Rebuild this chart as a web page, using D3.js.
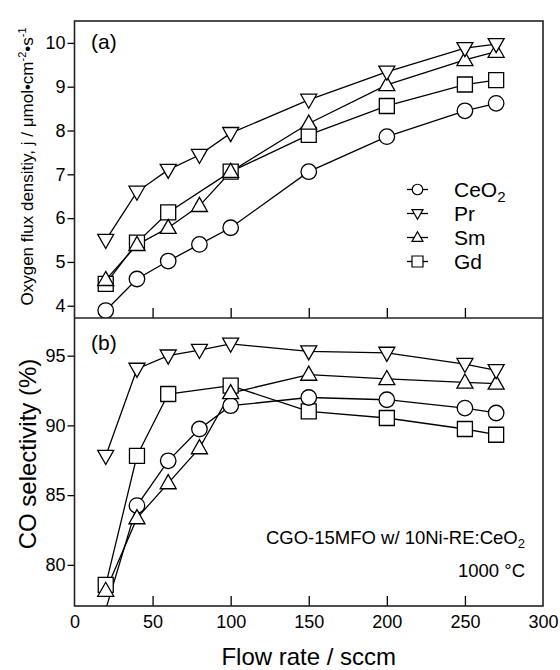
<!DOCTYPE html>
<html>
<head>
<meta charset="utf-8">
<script src="https://cdn.jsdelivr.net/npm/d3@7"></script>
<style>
  body { margin: 0; background: #fff; }
  svg { font-family: "Liberation Sans", Arial, Helvetica, sans-serif; }
</style>
</head>
<body>
<div id="chart"></div>
<script>
// flow rates (sccm); Gd has no point at 80
const flows = [20, 40, 60, 80, 100, 150, 200, 250, 270];
const gdFlows = [20, 40, 60, 100, 150, 200, 250, 270];

// (a) oxygen flux density
const fluxCeO2 = [3.89, 4.61, 5.02, 5.40, 5.78, 7.06, 7.86, 8.45, 8.62];
const fluxPr   = [5.50, 6.60, 7.10, 7.44, 7.94, 8.70, 9.34, 9.88, 9.97];
const fluxSm   = [4.59, 5.39, 5.78, 6.28, 7.06, 8.16, 9.04, 9.61, 9.80];
const fluxGd   = [4.50, 5.44, 6.13, 7.06, 7.90, 8.56, 9.05, 9.15];

// (b) CO selectivity (%)
const selCeO2 = [76.8, 84.25, 87.46, 89.74, 91.41, 92.0, 91.84, 91.24, 90.89];
const selPr   = [87.8, 94.05, 95.0, 95.4, 95.85, 95.3, 95.2, 94.4, 93.95];
const selSm   = [78.15, 83.35, 85.86, 88.37, 92.32, 93.64, 93.33, 93.08, 93.0];
const selGd   = [78.56, 87.82, 92.25, 92.85, 91.0, 90.53, 89.74, 89.33];

const xTicks = [0, 50, 100, 150, 200, 250, 300];
const innerXTicks = [50, 100, 150, 200, 250];
const fluxTicks = [4, 5, 6, 7, 8, 9, 10];
const selTicks = [80, 85, 90, 95];

const W = 560, H = 670;
const pLeft = 74.5, pRight = 543, pTop = 21, pMid = 318, pBottom = 606;

const svg = d3.select('#chart').append('svg').attr('width', W).attr('height', H);

const x = d3.scaleLinear().domain([0, 300]).range([pLeft, pRight]);
const yTop = d3.scaleLinear().domain([3.72, 10.5]).range([pMid, pTop]);
const yBot = d3.scaleLinear().domain([77.05, 97.7]).range([pBottom, pMid]);

// marker shapes
function markerPath(kind, s) {
  const h = s / 2;
  if (kind === 'circle') return d3.symbol(d3.symbolCircle, Math.PI * h * h)();
  if (kind === 'square') return `M${-h},${-h}H${h}V${h}H${-h}Z`;
  const th = s * 0.88;
  if (kind === 'up') return `M0,${-th * 0.6}L${h},${th * 0.4}L${-h},${th * 0.4}Z`;
  return `M0,${th * 0.6}L${h},${-th * 0.4}L${-h},${-th * 0.4}Z`;
}

const seriesTop = [
  { name: 'Gd', kind: 'square', xs: gdFlows, ys: fluxGd, size: 15 },
  { name: 'CeO2', kind: 'circle', xs: flows, ys: fluxCeO2, size: 15.5 },
  { name: 'Sm', kind: 'up', xs: flows, ys: fluxSm, size: 16 },
  { name: 'Pr', kind: 'down', xs: flows, ys: fluxPr, size: 16 },
];
const seriesBot = [
  { name: 'Gd', kind: 'square', xs: gdFlows, ys: selGd, size: 15 },
  { name: 'CeO2', kind: 'circle', xs: flows, ys: selCeO2, size: 15.5 },
  { name: 'Sm', kind: 'up', xs: flows, ys: selSm, size: 16 },
  { name: 'Pr', kind: 'down', xs: flows, ys: selPr, size: 16 },
];

// clip paths for each panel
const defs = svg.append('defs');
defs.append('clipPath').attr('id', 'clipTop').append('rect')
  .attr('x', pLeft).attr('y', pTop).attr('width', pRight - pLeft).attr('height', pMid - pTop);
defs.append('clipPath').attr('id', 'clipBot').append('rect')
  .attr('x', pLeft).attr('y', pMid).attr('width', pRight - pLeft).attr('height', pBottom - pMid);

function drawPanel(series, yScale, clipId) {
  const g = svg.append('g').attr('clip-path', `url(#${clipId})`);
  const line = d3.line().x(d => x(d[0])).y(d => yScale(d[1]));
  const [lo, hi] = yScale.domain();

  series.forEach(s => {
    const pts = s.xs.map((v, i) => [v, s.ys[i]]);
    g.append('path').datum(pts).attr('d', line)
      .attr('fill', 'none').attr('stroke', '#000').attr('stroke-width', 1.3);
  });
  series.forEach(s => {
    const pts = s.xs.map((v, i) => [v, s.ys[i]]).filter(d => d[1] >= lo && d[1] <= hi);
    g.selectAll(null).data(pts).join('path')
      .attr('transform', d => `translate(${x(d[0])},${yScale(d[1])})`)
      .attr('d', markerPath(s.kind, s.size))
      .attr('fill', '#fff').attr('stroke', '#000').attr('stroke-width', 1.3);
  });
}

drawPanel(seriesTop, yTop, 'clipTop');
drawPanel(seriesBot, yBot, 'clipBot');

// axes
function styleAxis(g) {
  g.select('.domain').remove();
  g.selectAll('line').attr('stroke', '#000').attr('stroke-width', 1.3);
  g.selectAll('text').attr('font-size', 18).attr('fill', '#000')
    .attr('font-family', '"Liberation Sans", Arial, sans-serif');
}

svg.append('g').attr('transform', `translate(${pLeft},0)`)
  .call(d3.axisLeft(yTop).tickValues(fluxTicks).tickFormat(d3.format('d')).tickSize(7).tickPadding(2))
  .call(styleAxis);
svg.append('g').attr('transform', `translate(${pLeft},0)`)
  .call(d3.axisLeft(yBot).tickValues(selTicks).tickFormat(d3.format('d')).tickSize(7).tickPadding(2))
  .call(styleAxis);

svg.append('g').attr('transform', `translate(0,${pMid})`)
  .call(d3.axisBottom(x).tickValues(innerXTicks).tickSize(-10).tickFormat(''))
  .call(styleAxis);
svg.append('g').attr('transform', `translate(0,${pBottom})`)
  .call(d3.axisBottom(x).tickValues(innerXTicks).tickSize(-10).tickFormat(''))
  .call(styleAxis);
svg.append('g').attr('transform', `translate(0,${pBottom})`)
  .call(d3.axisBottom(x).tickValues(xTicks).tickSize(0).tickPadding(9))
  .call(styleAxis);

// frame
svg.append('rect').attr('x', pLeft).attr('y', pTop).attr('width', pRight - pLeft).attr('height', pBottom - pTop)
  .attr('fill', 'none').attr('stroke', '#222').attr('stroke-width', 1.6);
svg.append('line').attr('x1', pLeft).attr('x2', pRight).attr('y1', pMid).attr('y2', pMid)
  .attr('stroke', '#222').attr('stroke-width', 1.6);

// panel labels
svg.append('text').attr('x', 91).attr('y', 48.5).attr('font-size', 21).text('(a)');
svg.append('text').attr('x', 91).attr('y', 349.5).attr('font-size', 21).text('(b)');

// y labels
const yl1 = svg.append('text')
  .attr('transform', `translate(33,${(pTop + pMid) / 2 - 3}) rotate(-90)`)
  .attr('text-anchor', 'middle').attr('font-size', 17);
yl1.append('tspan').text('Oxygen flux densitiy, j / μmol•cm');
yl1.append('tspan').attr('font-size', 11).attr('dy', -7).text('-2');
yl1.append('tspan').attr('dy', 7).text('•s');
yl1.append('tspan').attr('font-size', 11).attr('dy', -7).text('-1');

svg.append('text')
  .attr('transform', `translate(36,${(pMid + pBottom) / 2 - 8}) rotate(-90)`)
  .attr('text-anchor', 'middle').attr('font-size', 24)
  .text('CO selectivity (%)');

// x label
svg.append('text').attr('x', (pLeft + pRight) / 2).attr('y', 665)
  .attr('text-anchor', 'middle').attr('font-size', 24).text('Flow rate / sccm');

// annotations
const ann = svg.append('text').attr('x', 525).attr('y', 544)
  .attr('text-anchor', 'end').attr('font-size', 18.5);
ann.append('tspan').text('CGO-15MFO w/ 10Ni-RE:CeO');
ann.append('tspan').attr('font-size', 13).attr('dy', 4).text('2');
svg.append('text').attr('x', 525).attr('y', 577)
  .attr('text-anchor', 'end').attr('font-size', 18.5).text('1000 °C');

// legend
const legendNames = ['CeO2', 'Pr', 'Sm', 'Gd'];
const legendKinds = ['circle', 'down', 'up', 'square'];
const lg = svg.append('g');
legendNames.forEach((name, i) => {
  const cy = 189.5 + i * 24;
  lg.append('line').attr('x1', 407).attr('x2', 428).attr('y1', cy).attr('y2', cy)
    .attr('stroke', '#000').attr('stroke-width', 1.3);
  lg.append('path').attr('transform', `translate(417.5,${cy})`)
    .attr('d', markerPath(legendKinds[i], legendKinds[i] === 'circle' ? 10.5 : 11))
    .attr('fill', '#fff').attr('stroke', '#000').attr('stroke-width', 1.2);
  const t = lg.append('text').attr('x', 454).attr('y', cy + 7.5).attr('font-size', 21);
  if (name === 'CeO2') {
    t.append('tspan').text('CeO');
    t.append('tspan').attr('font-size', 15).attr('dy', 5).text('2');
  } else {
    t.text(name);
  }
});
</script>
</body>
</html>
